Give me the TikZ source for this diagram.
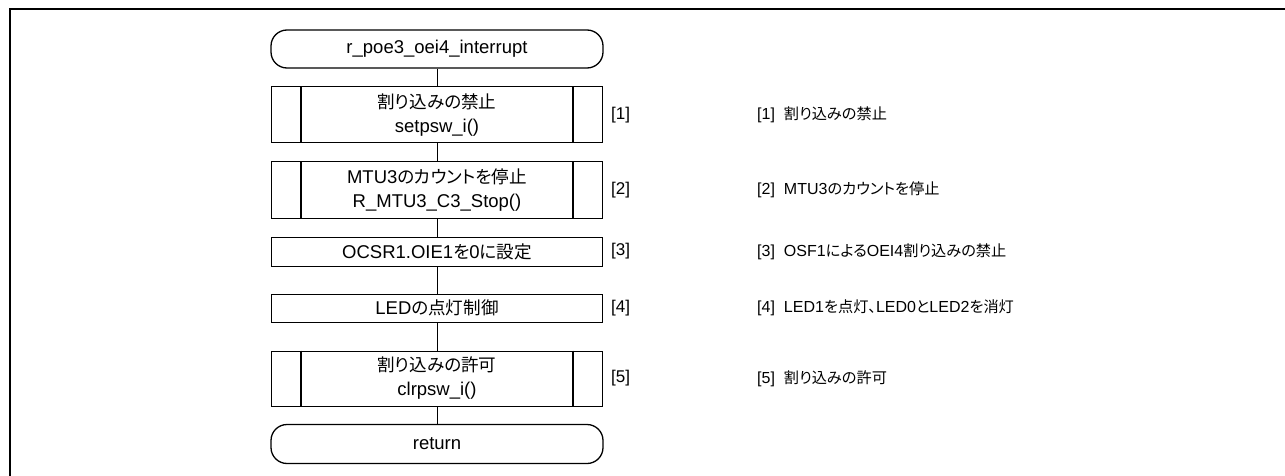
\documentclass[tikz,border=0pt]{standalone}
\usepackage{fontspec}
\setmainfont{Liberation Sans}
\newfontfamily\jpfont[RawFeature=+palt,Scale=0.95]{Noto Sans CJK JP}
\newcommand{\jp}[1]{{\jpfont #1}}
\begin{document}
\begin{tikzpicture}[x=1pt,y=-1pt,
  font=\fontsize{18.5}{24}\selectfont,
  term/.style={draw, line width=1.3pt, rounded corners=16pt, minimum width=332pt, minimum height=38pt, inner sep=0pt, align=center},
  proc/.style={draw, line width=1pt, minimum width=331pt, inner sep=0pt, align=center},
  lbl/.style={anchor=west, inner sep=0pt, font=\fontsize{17}{20}\selectfont},
  note/.style={anchor=west, inner sep=0pt, font=\fontsize{16}{20}\selectfont},
  conn/.style={line width=1pt},
  inner/.style={line width=1.3pt}]
\useasboundingbox (0,0) rectangle (1285,476);
\clip (0,0) rectangle (1285,476);
\draw[line width=2pt] (1295,9) -- (10,9) -- (10,490);

\node[term] (t0) at (437,49) {r\_poe3\_oei4\_interrupt};
\node[proc, minimum height=56pt] (b1) at (437,115) {\jp{割り込みの禁止}\\setpsw\_i()};
\node[proc, minimum height=56pt] (b2) at (437,190) {MTU3\jp{のカウントを停止}\\R\_MTU3\_C3\_Stop()};
\node[proc, minimum height=29pt] (b3) at (437,251.5) {OCSR1.OIE1\jp{を}0\jp{に設定}};
\node[proc, minimum height=28pt] (b4) at (437,308) {LED\jp{の点灯制御}};
\node[proc, minimum height=55pt] (b5) at (437,378.5) {\jp{割り込みの許可}\\clrpsw\_i()};
\node[term, minimum height=39pt] (t1) at (437,444) {return};

\foreach \b in {b1,b2,b5}{
  \draw[inner] ([xshift=30pt]\b.north west) -- ([xshift=30pt]\b.south west);
  \draw[inner] ([xshift=-30pt]\b.north east) -- ([xshift=-30pt]\b.south east);
}

\draw[conn] (t0.south) -- (b1.north);
\draw[conn] (b1.south) -- (b2.north);
\draw[conn] (b2.south) -- (b3.north);
\draw[conn] (b3.south) -- (b4.north);
\draw[conn] (b4.south) -- (b5.north);
\draw[conn] (b5.south) -- (t1.north);

\node[lbl] (l1) at (611,115) {[1]};
\node[lbl] (l2) at (611,190) {[2]};
\node[lbl] (l3) at (611,251.5) {[3]};
\node[lbl] (l4) at (611,308) {[4]};
\node[lbl] (l5) at (611,378.5) {[5]};

\node[note] (r1) at (757,115) {[1]\hspace{9pt}\jp{割り込みの禁止}};
\node[note] (r2) at (757,190) {[2]\hspace{9pt}MTU3\jp{のカウントを停止}};
\node[note] (r3) at (757,251.5) {[3]\hspace{9pt}OSF1\jp{による}OEI4\jp{割り込みの禁止}};
\node[note] (r4) at (757,308) {[4]\hspace{9pt}LED1\jp{を点灯、}LED0\jp{と}LED2\jp{を消灯}};
\node[note] (r5) at (757,378.5) {[5]\hspace{9pt}\jp{割り込みの許可}};
\end{tikzpicture}
\end{document}
